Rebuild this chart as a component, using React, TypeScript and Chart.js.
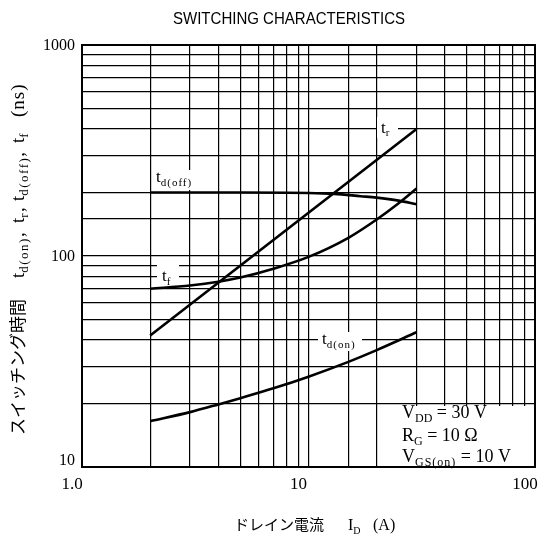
import React, { useEffect, useRef } from "react";
import { Chart, registerables } from "chart.js";

Chart.register(...registerables);

// ---- data ----
const trCurrent = [2, 30];
const trTime = [42, 400];

const tdoffCurrent = [2, 5, 10, 13, 17, 20, 25, 30];
const tdoffTime = [200, 200, 199, 197, 192, 189, 183, 176];

const tfCurrent = [2, 3, 4, 5, 7, 10, 15, 20, 25, 30];
const tfTime = [70, 72.5, 75.5, 79, 87, 99, 122, 149, 178, 209];

const tdonCurrent = [2, 3, 4, 5, 7, 10, 15, 20, 30];
const tdonTime = [16.5, 18.2, 19.8, 21.2, 23.6, 26.8, 31.5, 35.8, 43.5];

const xTickValues = [1, 10, 100];
const xTickLabels = ["1.0", "10", "100"];
const yTickValues = [10, 100, 1000];
const yTickLabels = ["10", "100", "1000"];

const SERIF = '"Liberation Serif", "DejaVu Serif", serif';
const SANS = '"Liberation Sans", Arial, sans-serif';
const CJK = '"Noto Sans CJK JP", sans-serif';

type Seg = { t: string; sub?: boolean; font?: string; ls?: number };

function drawRich(
  ctx: CanvasRenderingContext2D,
  x: number,
  y: number,
  segs: Seg[],
  mainFont: string,
  subFont: string,
  subDy: number
) {
  let cx = x;
  const c: any = ctx;
  for (const s of segs) {
    ctx.font = s.font ? s.font : s.sub ? subFont : mainFont;
    c.letterSpacing = `${s.ls || 0}px`;
    ctx.fillText(s.t, cx, s.sub ? y + subDy : y);
    cx += ctx.measureText(s.t).width;
  }
  c.letterSpacing = "0px";
  return cx - x;
}

const toPts = (xs: number[], ys: number[]) => xs.map((x, i) => ({ x, y: ys[i] }));

const decorPlugin = {
  id: "decor",
  beforeDatasetsDraw(chart: any) {
    const ctx: CanvasRenderingContext2D = chart.ctx;
    ctx.save();
    ctx.fillStyle = "#fff";
    // white boxes behind curve labels
    const boxes = [
      [377, 117, 21, 21],
      [152, 170, 45, 20],
      [157, 265, 22, 21],
      [318, 332, 44, 19],
      [398, 406, 136, 60],
    ];
    for (const b of boxes) ctx.fillRect(b[0], b[1], b[2], b[3]);

    ctx.fillStyle = "#000";
    ctx.textBaseline = "alphabetic";
    ctx.textAlign = "left";
    const mf = `17px ${SERIF}`;
    const sf = `11px ${SERIF}`;
    drawRich(ctx, 381, 133, [{ t: "t" }, { t: "r", sub: true }], mf, sf, 3);
    drawRich(ctx, 156, 182, [{ t: "t" }, { t: "d(off)", sub: true, ls: 1 }], mf, sf, 4);
    drawRich(ctx, 162, 281, [{ t: "t" }, { t: "f", sub: true }], mf, sf, 4);
    drawRich(ctx, 322, 344, [{ t: "t" }, { t: "d(on)", sub: true, ls: 1 }], mf, sf, 4);

    // conditions
    const af = `18px ${SERIF}`;
    const asf = `12px ${SERIF}`;
    drawRich(ctx, 402, 418, [{ t: "V" }, { t: "DD", sub: true }, { t: " = 30 V" }], af, asf, 4);
    drawRich(ctx, 402, 441, [{ t: "R" }, { t: "G", sub: true }, { t: " = 10 \u03A9" }], af, asf, 4);
    drawRich(ctx, 402, 462, [{ t: "V" }, { t: "GS(on)", sub: true, ls: 1 }, { t: " = 10 V" }], af, asf, 4);
    ctx.restore();
  },
  afterDraw(chart: any) {
    const ctx: CanvasRenderingContext2D = chart.ctx;
    const area = chart.chartArea;
    const xs = chart.scales.x;
    const ys = chart.scales.y;
    ctx.save();
    // frame
    ctx.strokeStyle = "#000";
    ctx.lineWidth = 2;
    ctx.strokeRect(area.left, area.top, area.right - area.left, area.bottom - area.top);

    ctx.fillStyle = "#000";
    // title
    ctx.font = `17px ${SANS}`;
    ctx.textAlign = "center";
    ctx.textBaseline = "middle";
    ctx.fillText("SWITCHING CHARACTERISTICS", 289, 19, 232);

    // y tick labels
    ctx.font = `16px ${SERIF}`;
    ctx.textAlign = "right";
    ctx.textBaseline = "middle";
    yTickValues.forEach((v, i) => {
      const py = Math.min(ys.getPixelForValue(v) + 1, area.bottom - 6);
      ctx.fillText(yTickLabels[i], area.left - 7, py);
    });
    // x tick labels
    ctx.textAlign = "center";
    ctx.font = `17px ${SERIF}`;
    xTickValues.forEach((v, i) => {
      const px = xs.getPixelForValue(v) - 10;
      ctx.fillText(xTickLabels[i], px, 485);
    });

    // x axis title
    ctx.textAlign = "left";
    ctx.textBaseline = "alphabetic";
    ctx.font = `15px ${CJK}`;
    ctx.fillText("ドレイン電流", 234, 530);
    drawRich(ctx, 348, 530, [{ t: "I" }, { t: "D", sub: true }], `16px ${SERIF}`, `10px ${SERIF}`, 4);
    ctx.font = `16px ${SERIF}`;
    ctx.fillText("(A)", 373, 530);

    // y axis title (rotated): screen y = base - rotated x
    const base = 435;
    ctx.translate(0, base);
    ctx.rotate(-Math.PI / 2);
    ctx.font = `17px ${CJK}`;
    ctx.textBaseline = "middle";
    ctx.fillText("スイッチング時間", 0, 17.5);
    ctx.textBaseline = "alphabetic";
    const lf = `19px ${SERIF}`;
    const lsf = `13px ${SERIF}`;
    const groups: { y: number; segs: Seg[] }[] = [
      { y: 278, segs: [{ t: "t" }, { t: "d(on)", sub: true, ls: 1.5 }, { t: "," }] },
      { y: 223, segs: [{ t: "t" }, { t: "r", sub: true, ls: 1.5 }, { t: "," }] },
      { y: 201, segs: [{ t: "t" }, { t: "d(off)", sub: true, ls: 1.5 }, { t: "," }] },
      { y: 143, segs: [{ t: "t" }, { t: "f", sub: true }] },
      { y: 117, segs: [{ t: "(ns)", ls: 1 }] },
    ];
    for (const g of groups) drawRich(ctx, base - g.y, 24, g.segs, lf, lsf, 4);
    ctx.restore();
  },
};

export default function App() {
  const ref = useRef<HTMLCanvasElement | null>(null);
  useEffect(() => {
    if (!ref.current) return;
    const lineStyle = {
      borderColor: "#000",
      borderWidth: 2.6,
      pointRadius: 0,
      fill: false,
      cubicInterpolationMode: "monotone" as const,
    };
    const chart = new Chart(ref.current, {
      type: "line",
      data: {
        datasets: [
          { label: "tr", data: toPts(trCurrent, trTime), ...lineStyle },
          { label: "td(off)", data: toPts(tdoffCurrent, tdoffTime), ...lineStyle },
          { label: "tf", data: toPts(tfCurrent, tfTime), ...lineStyle },
          { label: "td(on)", data: toPts(tdonCurrent, tdonTime), ...lineStyle },
        ],
      },
      options: {
        animation: false,
        responsive: false,
        devicePixelRatio: 1,
        layout: { padding: { left: 82, top: 45, right: 13, bottom: 75 } },
        plugins: { legend: { display: false }, tooltip: { enabled: false }, title: { display: false } },
        scales: {
          x: {
            type: "logarithmic",
            min: 1,
            max: 100,
            ticks: { display: false, autoSkip: false },
            grid: { color: "#000", lineWidth: 1.2, drawTicks: false, tickLength: 0 },
            border: { display: false },
          },
          y: {
            type: "logarithmic",
            min: 10,
            max: 1000,
            ticks: { display: false, autoSkip: false },
            grid: { color: "#000", lineWidth: 1.2, drawTicks: false, tickLength: 0 },
            border: { display: false },
          },
        },
      },
      plugins: [decorPlugin],
    });
    return () => chart.destroy();
  }, []);
  return (
    <div style={{ position: "absolute", left: 0, top: 0, width: 548, height: 542, background: "#fff" }}>
      <canvas ref={ref} width={548} height={542} style={{ display: "block" }} />
    </div>
  );
}
